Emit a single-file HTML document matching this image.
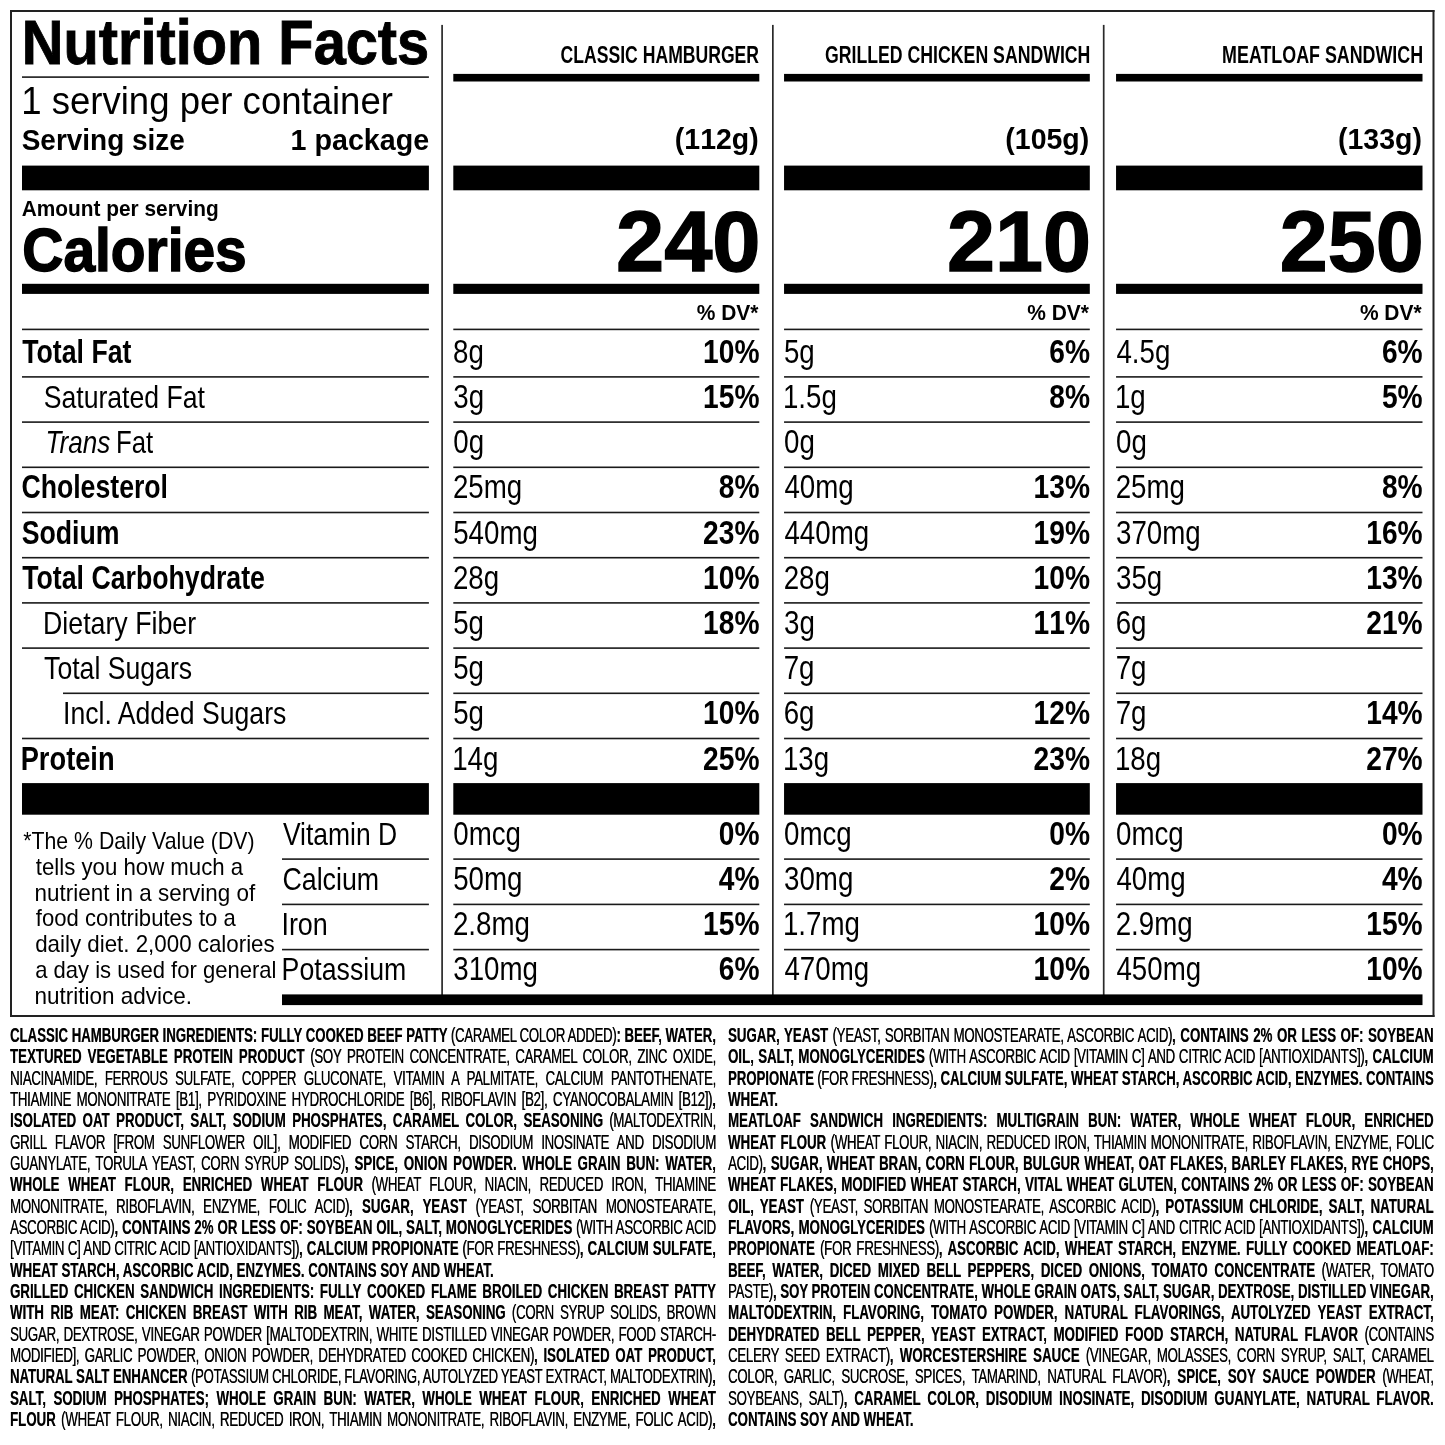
<!DOCTYPE html>
<html lang="en">
<head>
<meta charset="utf-8">
<title>Nutrition Facts</title>
<style>
html,body{margin:0;padding:0;background:#fff}
body{width:1445px;height:1445px;position:relative;overflow:hidden;font-family:"Liberation Sans", sans-serif;color:#000}
.t{position:absolute;white-space:pre;line-height:1;transform-origin:0 0;top:0;left:0}
.b{font-weight:700}
.i{font-style:italic}
.n{font-kerning:none}
.g{position:absolute;white-space:nowrap;line-height:1;transform-origin:0 0;font-size:20.3px;letter-spacing:-0.47px;text-align:justify;text-align-last:justify;color:#000;text-shadow:0.4px 0 0 rgba(0,0,0,.75)}
.g.e{text-align:left;text-align-last:left}
.g b{letter-spacing:0;text-shadow:0.25px 0 0 rgba(0,0,0,.6)}
</style>
</head>
<body>
<!-- rules and bars -->
<svg width="1445" height="1445" viewBox="0 0 1445 1445" style="position:absolute;left:0;top:0">
<rect x="10.00" y="10.00" width="1424.50" height="2.00" fill="#222"/>
<rect x="10.00" y="1015.00" width="1424.50" height="2.00" fill="#222"/>
<rect x="10.00" y="10.00" width="2.00" height="1007.00" fill="#222"/>
<rect x="1432.50" y="10.00" width="2.00" height="1007.00" fill="#222"/>
<rect x="441.25" y="24.90" width="1.70" height="971.00" fill="#2a2a2a"/>
<rect x="772.00" y="24.90" width="1.70" height="971.00" fill="#2a2a2a"/>
<rect x="1102.85" y="24.90" width="1.70" height="971.00" fill="#2a2a2a"/>
<rect x="22.00" y="76.30" width="406.90" height="1.60" fill="#1a1a1a"/>
<rect x="453.30" y="73.90" width="306.00" height="7.60"/>
<rect x="784.05" y="73.90" width="305.75" height="7.60"/>
<rect x="1116.05" y="73.90" width="306.45" height="7.60"/>
<rect x="22.00" y="165.60" width="406.90" height="24.70"/>
<rect x="22.00" y="283.80" width="406.90" height="10.10"/>
<rect x="22.00" y="783.10" width="406.90" height="31.60"/>
<rect x="453.30" y="165.60" width="306.00" height="24.70"/>
<rect x="453.30" y="283.80" width="306.00" height="10.10"/>
<rect x="453.30" y="783.10" width="306.00" height="31.60"/>
<rect x="784.05" y="165.60" width="305.75" height="24.70"/>
<rect x="784.05" y="283.80" width="305.75" height="10.10"/>
<rect x="784.05" y="783.10" width="305.75" height="31.60"/>
<rect x="1116.05" y="165.60" width="306.45" height="24.70"/>
<rect x="1116.05" y="283.80" width="306.45" height="10.10"/>
<rect x="1116.05" y="783.10" width="306.45" height="31.60"/>
<rect x="22.00" y="328.60" width="406.90" height="1.60" fill="#1a1a1a"/>
<rect x="453.30" y="328.60" width="306.00" height="1.60" fill="#1a1a1a"/>
<rect x="784.05" y="328.60" width="305.75" height="1.60" fill="#1a1a1a"/>
<rect x="1116.05" y="328.60" width="306.45" height="1.60" fill="#1a1a1a"/>
<rect x="22.00" y="376.10" width="406.90" height="1.60" fill="#1a1a1a"/>
<rect x="453.30" y="376.10" width="306.00" height="1.60" fill="#1a1a1a"/>
<rect x="784.05" y="376.10" width="305.75" height="1.60" fill="#1a1a1a"/>
<rect x="1116.05" y="376.10" width="306.45" height="1.60" fill="#1a1a1a"/>
<rect x="22.00" y="421.30" width="406.90" height="1.60" fill="#1a1a1a"/>
<rect x="453.30" y="421.30" width="306.00" height="1.60" fill="#1a1a1a"/>
<rect x="784.05" y="421.30" width="305.75" height="1.60" fill="#1a1a1a"/>
<rect x="1116.05" y="421.30" width="306.45" height="1.60" fill="#1a1a1a"/>
<rect x="22.00" y="466.50" width="406.90" height="1.60" fill="#1a1a1a"/>
<rect x="453.30" y="466.50" width="306.00" height="1.60" fill="#1a1a1a"/>
<rect x="784.05" y="466.50" width="305.75" height="1.60" fill="#1a1a1a"/>
<rect x="1116.05" y="466.50" width="306.45" height="1.60" fill="#1a1a1a"/>
<rect x="22.00" y="511.70" width="406.90" height="1.60" fill="#1a1a1a"/>
<rect x="453.30" y="511.70" width="306.00" height="1.60" fill="#1a1a1a"/>
<rect x="784.05" y="511.70" width="305.75" height="1.60" fill="#1a1a1a"/>
<rect x="1116.05" y="511.70" width="306.45" height="1.60" fill="#1a1a1a"/>
<rect x="22.00" y="556.90" width="406.90" height="1.60" fill="#1a1a1a"/>
<rect x="453.30" y="556.90" width="306.00" height="1.60" fill="#1a1a1a"/>
<rect x="784.05" y="556.90" width="305.75" height="1.60" fill="#1a1a1a"/>
<rect x="1116.05" y="556.90" width="306.45" height="1.60" fill="#1a1a1a"/>
<rect x="22.00" y="602.10" width="406.90" height="1.60" fill="#1a1a1a"/>
<rect x="453.30" y="602.10" width="306.00" height="1.60" fill="#1a1a1a"/>
<rect x="784.05" y="602.10" width="305.75" height="1.60" fill="#1a1a1a"/>
<rect x="1116.05" y="602.10" width="306.45" height="1.60" fill="#1a1a1a"/>
<rect x="22.00" y="647.30" width="406.90" height="1.60" fill="#1a1a1a"/>
<rect x="453.30" y="647.30" width="306.00" height="1.60" fill="#1a1a1a"/>
<rect x="784.05" y="647.30" width="305.75" height="1.60" fill="#1a1a1a"/>
<rect x="1116.05" y="647.30" width="306.45" height="1.60" fill="#1a1a1a"/>
<rect x="63.00" y="692.50" width="365.90" height="1.60" fill="#1a1a1a"/>
<rect x="453.30" y="692.50" width="306.00" height="1.60" fill="#1a1a1a"/>
<rect x="784.05" y="692.50" width="305.75" height="1.60" fill="#1a1a1a"/>
<rect x="1116.05" y="692.50" width="306.45" height="1.60" fill="#1a1a1a"/>
<rect x="22.00" y="737.70" width="406.90" height="1.60" fill="#1a1a1a"/>
<rect x="453.30" y="737.70" width="306.00" height="1.60" fill="#1a1a1a"/>
<rect x="784.05" y="737.70" width="305.75" height="1.60" fill="#1a1a1a"/>
<rect x="1116.05" y="737.70" width="306.45" height="1.60" fill="#1a1a1a"/>
<rect x="282.00" y="858.30" width="146.90" height="1.60" fill="#1a1a1a"/>
<rect x="453.30" y="858.30" width="306.00" height="1.60" fill="#1a1a1a"/>
<rect x="784.05" y="858.30" width="305.75" height="1.60" fill="#1a1a1a"/>
<rect x="1116.05" y="858.30" width="306.45" height="1.60" fill="#1a1a1a"/>
<rect x="282.00" y="903.60" width="146.90" height="1.60" fill="#1a1a1a"/>
<rect x="453.30" y="903.60" width="306.00" height="1.60" fill="#1a1a1a"/>
<rect x="784.05" y="903.60" width="305.75" height="1.60" fill="#1a1a1a"/>
<rect x="1116.05" y="903.60" width="306.45" height="1.60" fill="#1a1a1a"/>
<rect x="282.00" y="948.80" width="146.90" height="1.60" fill="#1a1a1a"/>
<rect x="453.30" y="948.80" width="306.00" height="1.60" fill="#1a1a1a"/>
<rect x="784.05" y="948.80" width="305.75" height="1.60" fill="#1a1a1a"/>
<rect x="1116.05" y="948.80" width="306.45" height="1.60" fill="#1a1a1a"/>
<rect x="282.00" y="994.40" width="1140.50" height="10.70"/>
</svg>
<!-- label text -->
<span class="t b" style="font-size:63.4px;-webkit-text-stroke:0.9px #000;transform:translate(21.85px,11.00px) scaleX(0.9107)">Nutrition Facts</span>
<span class="t" style="font-size:38px;transform:translate(21.22px,82.00px) scaleX(0.9616)">1 serving per container</span>
<span class="t b" style="font-size:30px;transform:translate(21.69px,125.00px) scaleX(0.9319)">Serving size</span>
<span class="t b" style="font-size:30px;transform:translate(290.49px,125.00px) scaleX(0.9565)">1 package</span>
<span class="t b" style="font-size:22.4px;transform:translate(21.68px,198.00px) scaleX(0.9315)">Amount per serving</span>
<span class="t b" style="font-size:62.0px;-webkit-text-stroke:1.5px #000;transform:translate(22.36px,219.00px) scaleX(0.9167)">Calories</span>
<span class="t b" style="font-size:23.4px;transform:translate(560.58px,44.00px) scaleX(0.7524)">CLASSIC HAMBURGER</span>
<span class="t b n" style="font-size:30px;transform:translate(674.83px,124.00px) scaleX(0.9488)">(112g)</span>
<span class="t b n" style="font-size:86px;-webkit-text-stroke:1.4px #000;transform:translate(616.00px,198.00px) scaleX(1.0074)">240</span>
<span class="t b" style="font-size:22.6px;transform:translate(696.68px,302.00px) scaleX(0.9278)">% DV*</span>
<span class="t b" style="font-size:23.4px;transform:translate(824.97px,44.00px) scaleX(0.7565)">GRILLED CHICKEN SANDWICH</span>
<span class="t b n" style="font-size:30px;transform:translate(1005.33px,124.00px) scaleX(0.9488)">(105g)</span>
<span class="t b n" style="font-size:86px;-webkit-text-stroke:1.4px #000;transform:translate(947.01px,198.00px) scaleX(1.0038)">210</span>
<span class="t b" style="font-size:22.6px;transform:translate(1027.18px,302.00px) scaleX(0.9278)">% DV*</span>
<span class="t b" style="font-size:23.4px;transform:translate(1222.11px,44.00px) scaleX(0.7633)">MEATLOAF SANDWICH</span>
<span class="t b n" style="font-size:30px;transform:translate(1338.03px,124.00px) scaleX(0.9488)">(133g)</span>
<span class="t b n" style="font-size:86px;-webkit-text-stroke:1.4px #000;transform:translate(1279.81px,198.00px) scaleX(1.0030)">250</span>
<span class="t b" style="font-size:22.6px;transform:translate(1359.88px,302.00px) scaleX(0.9278)">% DV*</span>
<span class="t b" style="font-size:33.3px;transform:translate(22.20px,335.00px) scaleX(0.8016)">Total Fat</span>
<span class="t" style="font-size:32px;transform:translate(43.69px,381.00px) scaleX(0.8319)">Saturated Fat</span>
<span class="t i" style="font-size:32px;transform:translate(45.56px,426.00px) scaleX(0.8156)">Trans</span>
<span class="t" style="font-size:32px;transform:translate(115.99px,426.00px) scaleX(0.8046)">Fat</span>
<span class="t b" style="font-size:33.3px;transform:translate(21.41px,470.00px) scaleX(0.8003)">Cholesterol</span>
<span class="t b" style="font-size:33.3px;transform:translate(21.73px,516.00px) scaleX(0.8013)">Sodium</span>
<span class="t b" style="font-size:33.3px;transform:translate(22.20px,561.00px) scaleX(0.8016)">Total Carbohydrate</span>
<span class="t" style="font-size:32px;transform:translate(43.01px,607.00px) scaleX(0.8356)">Dietary Fiber</span>
<span class="t" style="font-size:32px;transform:translate(44.10px,652.00px) scaleX(0.8318)">Total Sugars</span>
<span class="t" style="font-size:32px;transform:translate(63.05px,697.00px) scaleX(0.8311)">Incl. Added Sugars</span>
<span class="t b" style="font-size:33.3px;transform:translate(20.68px,742.00px) scaleX(0.8188)">Protein</span>
<span class="t" style="font-size:32px;transform:translate(282.88px,818.00px) scaleX(0.8274)">Vitamin D</span>
<span class="t" style="font-size:32px;transform:translate(282.44px,863.00px) scaleX(0.8369)">Calcium</span>
<span class="t" style="font-size:32px;transform:translate(281.41px,908.00px) scaleX(0.8422)">Iron</span>
<span class="t" style="font-size:32px;transform:translate(281.61px,953.00px) scaleX(0.8344)">Potassium</span>
<span class="t n" style="font-size:33.3px;transform:translate(453.10px,335.00px) scaleX(0.8320)">8g</span>
<span class="t b n" style="font-size:33.3px;transform:translate(703.06px,335.00px) scaleX(0.8460)">10%</span>
<span class="t n" style="font-size:33.3px;transform:translate(783.94px,335.00px) scaleX(0.8320)">5g</span>
<span class="t b n" style="font-size:33.3px;transform:translate(1049.23px,335.00px) scaleX(0.8460)">6%</span>
<span class="t n" style="font-size:33.3px;transform:translate(1116.41px,335.00px) scaleX(0.8320)">4.5g</span>
<span class="t b n" style="font-size:33.3px;transform:translate(1381.93px,335.00px) scaleX(0.8460)">6%</span>
<span class="t n" style="font-size:33.3px;transform:translate(453.24px,380.00px) scaleX(0.8320)">3g</span>
<span class="t b n" style="font-size:33.3px;transform:translate(703.06px,380.00px) scaleX(0.8460)">15%</span>
<span class="t n" style="font-size:33.3px;transform:translate(782.94px,380.00px) scaleX(0.8320)">1.5g</span>
<span class="t b n" style="font-size:33.3px;transform:translate(1049.23px,380.00px) scaleX(0.8460)">8%</span>
<span class="t n" style="font-size:33.3px;transform:translate(1114.94px,380.00px) scaleX(0.8320)">1g</span>
<span class="t b n" style="font-size:33.3px;transform:translate(1381.93px,380.00px) scaleX(0.8460)">5%</span>
<span class="t n" style="font-size:33.3px;transform:translate(453.22px,425.00px) scaleX(0.8320)">0g</span>
<span class="t n" style="font-size:33.3px;transform:translate(783.97px,425.00px) scaleX(0.8320)">0g</span>
<span class="t n" style="font-size:33.3px;transform:translate(1115.97px,425.00px) scaleX(0.8320)">0g</span>
<span class="t n" style="font-size:33.3px;transform:translate(452.91px,470.00px) scaleX(0.8320)">25mg</span>
<span class="t b n" style="font-size:33.3px;transform:translate(718.73px,470.00px) scaleX(0.8460)">8%</span>
<span class="t n" style="font-size:33.3px;transform:translate(784.41px,470.00px) scaleX(0.8320)">40mg</span>
<span class="t b n" style="font-size:33.3px;transform:translate(1033.56px,470.00px) scaleX(0.8460)">13%</span>
<span class="t n" style="font-size:33.3px;transform:translate(1115.66px,470.00px) scaleX(0.8320)">25mg</span>
<span class="t b n" style="font-size:33.3px;transform:translate(1381.93px,470.00px) scaleX(0.8460)">8%</span>
<span class="t n" style="font-size:33.3px;transform:translate(453.19px,516.00px) scaleX(0.8320)">540mg</span>
<span class="t b n" style="font-size:33.3px;transform:translate(703.06px,516.00px) scaleX(0.8460)">23%</span>
<span class="t n" style="font-size:33.3px;transform:translate(784.41px,516.00px) scaleX(0.8320)">440mg</span>
<span class="t b n" style="font-size:33.3px;transform:translate(1033.56px,516.00px) scaleX(0.8460)">19%</span>
<span class="t n" style="font-size:33.3px;transform:translate(1115.99px,516.00px) scaleX(0.8320)">370mg</span>
<span class="t b n" style="font-size:33.3px;transform:translate(1366.26px,516.00px) scaleX(0.8460)">16%</span>
<span class="t n" style="font-size:33.3px;transform:translate(452.91px,561.00px) scaleX(0.8320)">28g</span>
<span class="t b n" style="font-size:33.3px;transform:translate(703.06px,561.00px) scaleX(0.8460)">10%</span>
<span class="t n" style="font-size:33.3px;transform:translate(783.66px,561.00px) scaleX(0.8320)">28g</span>
<span class="t b n" style="font-size:33.3px;transform:translate(1033.56px,561.00px) scaleX(0.8460)">10%</span>
<span class="t n" style="font-size:33.3px;transform:translate(1115.99px,561.00px) scaleX(0.8320)">35g</span>
<span class="t b n" style="font-size:33.3px;transform:translate(1366.26px,561.00px) scaleX(0.8460)">13%</span>
<span class="t n" style="font-size:33.3px;transform:translate(453.19px,606.00px) scaleX(0.8320)">5g</span>
<span class="t b n" style="font-size:33.3px;transform:translate(703.06px,606.00px) scaleX(0.8460)">18%</span>
<span class="t n" style="font-size:33.3px;transform:translate(783.99px,606.00px) scaleX(0.8320)">3g</span>
<span class="t b n" style="font-size:33.3px;transform:translate(1033.56px,606.00px) scaleX(0.8460)">11%</span>
<span class="t n" style="font-size:33.3px;transform:translate(1115.64px,606.00px) scaleX(0.8320)">6g</span>
<span class="t b n" style="font-size:33.3px;transform:translate(1366.26px,606.00px) scaleX(0.8460)">21%</span>
<span class="t n" style="font-size:33.3px;transform:translate(453.19px,651.00px) scaleX(0.8320)">5g</span>
<span class="t n" style="font-size:33.3px;transform:translate(783.63px,651.00px) scaleX(0.8320)">7g</span>
<span class="t n" style="font-size:33.3px;transform:translate(1115.63px,651.00px) scaleX(0.8320)">7g</span>
<span class="t n" style="font-size:33.3px;transform:translate(453.19px,696.00px) scaleX(0.8320)">5g</span>
<span class="t b n" style="font-size:33.3px;transform:translate(703.06px,696.00px) scaleX(0.8460)">10%</span>
<span class="t n" style="font-size:33.3px;transform:translate(783.64px,696.00px) scaleX(0.8320)">6g</span>
<span class="t b n" style="font-size:33.3px;transform:translate(1033.56px,696.00px) scaleX(0.8460)">12%</span>
<span class="t n" style="font-size:33.3px;transform:translate(1115.63px,696.00px) scaleX(0.8320)">7g</span>
<span class="t b n" style="font-size:33.3px;transform:translate(1366.26px,696.00px) scaleX(0.8460)">14%</span>
<span class="t n" style="font-size:33.3px;transform:translate(452.19px,742.00px) scaleX(0.8320)">14g</span>
<span class="t b n" style="font-size:33.3px;transform:translate(703.06px,742.00px) scaleX(0.8460)">25%</span>
<span class="t n" style="font-size:33.3px;transform:translate(782.94px,742.00px) scaleX(0.8320)">13g</span>
<span class="t b n" style="font-size:33.3px;transform:translate(1033.56px,742.00px) scaleX(0.8460)">23%</span>
<span class="t n" style="font-size:33.3px;transform:translate(1114.94px,742.00px) scaleX(0.8320)">18g</span>
<span class="t b n" style="font-size:33.3px;transform:translate(1366.26px,742.00px) scaleX(0.8460)">27%</span>
<span class="t n" style="font-size:33.3px;transform:translate(453.22px,817.00px) scaleX(0.8320)">0mcg</span>
<span class="t b n" style="font-size:33.3px;transform:translate(718.73px,817.00px) scaleX(0.8460)">0%</span>
<span class="t n" style="font-size:33.3px;transform:translate(783.97px,817.00px) scaleX(0.8320)">0mcg</span>
<span class="t b n" style="font-size:33.3px;transform:translate(1049.23px,817.00px) scaleX(0.8460)">0%</span>
<span class="t n" style="font-size:33.3px;transform:translate(1115.97px,817.00px) scaleX(0.8320)">0mcg</span>
<span class="t b n" style="font-size:33.3px;transform:translate(1381.93px,817.00px) scaleX(0.8460)">0%</span>
<span class="t n" style="font-size:33.3px;transform:translate(453.19px,862.00px) scaleX(0.8320)">50mg</span>
<span class="t b n" style="font-size:33.3px;transform:translate(718.73px,862.00px) scaleX(0.8460)">4%</span>
<span class="t n" style="font-size:33.3px;transform:translate(783.99px,862.00px) scaleX(0.8320)">30mg</span>
<span class="t b n" style="font-size:33.3px;transform:translate(1049.23px,862.00px) scaleX(0.8460)">2%</span>
<span class="t n" style="font-size:33.3px;transform:translate(1116.41px,862.00px) scaleX(0.8320)">40mg</span>
<span class="t b n" style="font-size:33.3px;transform:translate(1381.93px,862.00px) scaleX(0.8460)">4%</span>
<span class="t n" style="font-size:33.3px;transform:translate(452.91px,907.00px) scaleX(0.8320)">2.8mg</span>
<span class="t b n" style="font-size:33.3px;transform:translate(703.06px,907.00px) scaleX(0.8460)">15%</span>
<span class="t n" style="font-size:33.3px;transform:translate(782.94px,907.00px) scaleX(0.8320)">1.7mg</span>
<span class="t b n" style="font-size:33.3px;transform:translate(1033.56px,907.00px) scaleX(0.8460)">10%</span>
<span class="t n" style="font-size:33.3px;transform:translate(1115.66px,907.00px) scaleX(0.8320)">2.9mg</span>
<span class="t b n" style="font-size:33.3px;transform:translate(1366.26px,907.00px) scaleX(0.8460)">15%</span>
<span class="t n" style="font-size:33.3px;transform:translate(453.24px,952.00px) scaleX(0.8320)">310mg</span>
<span class="t b n" style="font-size:33.3px;transform:translate(718.73px,952.00px) scaleX(0.8460)">6%</span>
<span class="t n" style="font-size:33.3px;transform:translate(784.41px,952.00px) scaleX(0.8320)">470mg</span>
<span class="t b n" style="font-size:33.3px;transform:translate(1033.56px,952.00px) scaleX(0.8460)">10%</span>
<span class="t n" style="font-size:33.3px;transform:translate(1116.41px,952.00px) scaleX(0.8320)">450mg</span>
<span class="t b n" style="font-size:33.3px;transform:translate(1366.26px,952.00px) scaleX(0.8460)">10%</span>
<span class="t" style="font-size:24.0px;transform:translate(23.26px,829.00px) scaleX(0.8861)">*The % Daily Value (DV)</span>
<span class="t" style="font-size:24.0px;transform:translate(35.76px,855.00px) scaleX(0.9256)">tells you how much a</span>
<span class="t" style="font-size:24.0px;transform:translate(34.61px,881.00px) scaleX(0.9340)">nutrient in a serving of</span>
<span class="t" style="font-size:24.0px;transform:translate(35.79px,906.00px) scaleX(0.9197)">food contributes to a</span>
<span class="t" style="font-size:24.0px;transform:translate(35.16px,932.00px) scaleX(0.9303)">daily diet. 2,000 calories</span>
<span class="t" style="font-size:24.0px;transform:translate(35.16px,958.00px) scaleX(0.9177)">a day is used for general</span>
<span class="t" style="font-size:24.0px;transform:translate(34.61px,984.00px) scaleX(0.9367)">nutrition advice.</span>
<!-- ingredients -->
<div class="g" style="left:10.30px;top:1025.00px;width:1084.20px;transform:scaleX(0.6511)"><b>CLASSIC HAMBURGER INGREDIENTS: FULLY COOKED BEEF PATTY</b> (CARAMEL COLOR ADDED)<b>: BEEF, WATER,</b></div>
<div class="g" style="left:10.30px;top:1046.00px;width:1077.71px;transform:scaleX(0.6550)"><b>TEXTURED VEGETABLE PROTEIN PRODUCT</b> (SOY PROTEIN CONCENTRATE, CARAMEL COLOR, ZINC OXIDE,</div>
<div class="g" style="left:10.30px;top:1068.00px;width:1077.71px;transform:scaleX(0.6550)">NIACINAMIDE, FERROUS SULFATE, COPPER GLUCONATE, VITAMIN A PALMITATE, CALCIUM PANTOTHENATE,</div>
<div class="g" style="left:10.30px;top:1089.00px;width:1077.71px;transform:scaleX(0.6550)">THIAMINE MONONITRATE [B1], PYRIDOXINE HYDROCHLORIDE [B6], RIBOFLAVIN [B2], CYANOCOBALAMIN [B12])<b>,</b></div>
<div class="g" style="left:10.30px;top:1110.00px;width:1077.71px;transform:scaleX(0.6550)"><b>ISOLATED OAT PRODUCT, SALT, SODIUM PHOSPHATES, CARAMEL COLOR, SEASONING</b> (MALTODEXTRIN,</div>
<div class="g" style="left:10.30px;top:1132.00px;width:1077.71px;transform:scaleX(0.6550)">GRILL FLAVOR [FROM SUNFLOWER OIL], MODIFIED CORN STARCH, DISODIUM INOSINATE AND DISODIUM</div>
<div class="g" style="left:10.30px;top:1153.00px;width:1077.71px;transform:scaleX(0.6550)">GUANYLATE, TORULA YEAST, CORN SYRUP SOLIDS)<b>, SPICE, ONION POWDER. WHOLE GRAIN BUN: WATER,</b></div>
<div class="g" style="left:10.30px;top:1174.00px;width:1077.71px;transform:scaleX(0.6550)"><b>WHOLE WHEAT FLOUR, ENRICHED WHEAT FLOUR</b> (WHEAT FLOUR, NIACIN, REDUCED IRON, THIAMINE</div>
<div class="g" style="left:10.30px;top:1196.00px;width:1077.71px;transform:scaleX(0.6550)">MONONITRATE, RIBOFLAVIN, ENZYME, FOLIC ACID)<b>, SUGAR, YEAST</b> (YEAST, SORBITAN MONOSTEARATE,</div>
<div class="g" style="left:10.30px;top:1217.00px;width:1077.71px;transform:scaleX(0.6550)">ASCORBIC ACID)<b>, CONTAINS 2% OR LESS OF: SOYBEAN OIL, SALT, MONOGLYCERIDES</b> (WITH ASCORBIC ACID</div>
<div class="g" style="left:10.30px;top:1238.00px;width:1077.71px;transform:scaleX(0.6550)">[VITAMIN C] AND CITRIC ACID [ANTIOXIDANTS])<b>, CALCIUM PROPIONATE</b> (FOR FRESHNESS)<b>, CALCIUM SULFATE,</b></div>
<div class="g e" style="left:10.30px;top:1260.00px;width:1077.71px;transform:scaleX(0.6550)"><b>WHEAT STARCH, ASCORBIC ACID, ENZYMES. CONTAINS SOY AND WHEAT.</b></div>
<div class="g" style="left:10.30px;top:1281.00px;width:1077.71px;transform:scaleX(0.6550)"><b>GRILLED CHICKEN SANDWICH INGREDIENTS: FULLY COOKED FLAME BROILED CHICKEN BREAST PATTY</b></div>
<div class="g" style="left:10.30px;top:1302.00px;width:1077.71px;transform:scaleX(0.6550)"><b>WITH RIB MEAT: CHICKEN BREAST WITH RIB MEAT, WATER, SEASONING</b> (CORN SYRUP SOLIDS, BROWN</div>
<div class="g" style="left:10.30px;top:1324.00px;width:1077.71px;transform:scaleX(0.6550)">SUGAR, DEXTROSE, VINEGAR POWDER [MALTODEXTRIN, WHITE DISTILLED VINEGAR POWDER, FOOD STARCH-</div>
<div class="g" style="left:10.30px;top:1345.00px;width:1077.71px;transform:scaleX(0.6550)">MODIFIED], GARLIC POWDER, ONION POWDER, DEHYDRATED COOKED CHICKEN)<b>, ISOLATED OAT PRODUCT,</b></div>
<div class="g" style="left:10.30px;top:1366.00px;width:1088.27px;transform:scaleX(0.6486)"><b>NATURAL SALT ENHANCER</b> (POTASSIUM CHLORIDE, FLAVORING, AUTOLYZED YEAST EXTRACT, MALTODEXTRIN)<b>,</b></div>
<div class="g" style="left:10.30px;top:1388.00px;width:1077.71px;transform:scaleX(0.6550)"><b>SALT, SODIUM PHOSPHATES; WHOLE GRAIN BUN: WATER, WHOLE WHEAT FLOUR, ENRICHED WHEAT</b></div>
<div class="g" style="left:10.30px;top:1409.00px;width:1077.71px;transform:scaleX(0.6550)"><b>FLOUR</b> (WHEAT FLOUR, NIACIN, REDUCED IRON, THIAMIN MONONITRATE, RIBOFLAVIN, ENZYME, FOLIC ACID)<b>,</b></div>
<div class="g" style="left:728.30px;top:1025.00px;width:1077.40px;transform:scaleX(0.6550)"><b>SUGAR, YEAST</b> (YEAST, SORBITAN MONOSTEARATE, ASCORBIC ACID)<b>, CONTAINS 2% OR LESS OF: SOYBEAN</b></div>
<div class="g" style="left:728.30px;top:1046.00px;width:1077.40px;transform:scaleX(0.6550)"><b>OIL, SALT, MONOGLYCERIDES</b> (WITH ASCORBIC ACID [VITAMIN C] AND CITRIC ACID [ANTIOXIDANTS])<b>, CALCIUM</b></div>
<div class="g" style="left:728.30px;top:1068.00px;width:1088.81px;transform:scaleX(0.6481)"><b>PROPIONATE</b> (FOR FRESHNESS)<b>, CALCIUM SULFATE, WHEAT STARCH, ASCORBIC ACID, ENZYMES. CONTAINS</b></div>
<div class="g e" style="left:728.30px;top:1089.00px;width:1077.40px;transform:scaleX(0.6550)"><b>WHEAT.</b></div>
<div class="g" style="left:728.30px;top:1110.00px;width:1077.40px;transform:scaleX(0.6550)"><b>MEATLOAF SANDWICH INGREDIENTS: MULTIGRAIN BUN: WATER, WHOLE WHEAT FLOUR, ENRICHED</b></div>
<div class="g" style="left:728.30px;top:1132.00px;width:1077.40px;transform:scaleX(0.6550)"><b>WHEAT FLOUR</b> (WHEAT FLOUR, NIACIN, REDUCED IRON, THIAMIN MONONITRATE, RIBOFLAVIN, ENZYME, FOLIC</div>
<div class="g" style="left:728.30px;top:1153.00px;width:1077.40px;transform:scaleX(0.6550)">ACID)<b>, SUGAR, WHEAT BRAN, CORN FLOUR, BULGUR WHEAT, OAT FLAKES, BARLEY FLAKES, RYE CHOPS,</b></div>
<div class="g" style="left:728.30px;top:1174.00px;width:1077.40px;transform:scaleX(0.6550)"><b>WHEAT FLAKES, MODIFIED WHEAT STARCH, VITAL WHEAT GLUTEN, CONTAINS 2% OR LESS OF: SOYBEAN</b></div>
<div class="g" style="left:728.30px;top:1196.00px;width:1077.40px;transform:scaleX(0.6550)"><b>OIL, YEAST</b> (YEAST, SORBITAN MONOSTEARATE, ASCORBIC ACID)<b>, POTASSIUM CHLORIDE, SALT, NATURAL</b></div>
<div class="g" style="left:728.30px;top:1217.00px;width:1077.40px;transform:scaleX(0.6550)"><b>FLAVORS, MONOGLYCERIDES</b> (WITH ASCORBIC ACID [VITAMIN C] AND CITRIC ACID [ANTIOXIDANTS])<b>, CALCIUM</b></div>
<div class="g" style="left:728.30px;top:1238.00px;width:1077.40px;transform:scaleX(0.6550)"><b>PROPIONATE</b> (FOR FRESHNESS)<b>, ASCORBIC ACID, WHEAT STARCH, ENZYME. FULLY COOKED MEATLOAF:</b></div>
<div class="g" style="left:728.30px;top:1260.00px;width:1077.40px;transform:scaleX(0.6550)"><b>BEEF, WATER, DICED MIXED BELL PEPPERS, DICED ONIONS, TOMATO CONCENTRATE</b> (WATER, TOMATO</div>
<div class="g" style="left:728.30px;top:1281.00px;width:1083.81px;transform:scaleX(0.6511)">PASTE)<b>, SOY PROTEIN CONCENTRATE, WHOLE GRAIN OATS, SALT, SUGAR, DEXTROSE, DISTILLED VINEGAR,</b></div>
<div class="g" style="left:728.30px;top:1302.00px;width:1077.40px;transform:scaleX(0.6550)"><b>MALTODEXTRIN, FLAVORING, TOMATO POWDER, NATURAL FLAVORINGS, AUTOLYZED YEAST EXTRACT,</b></div>
<div class="g" style="left:728.30px;top:1324.00px;width:1077.40px;transform:scaleX(0.6550)"><b>DEHYDRATED BELL PEPPER, YEAST EXTRACT, MODIFIED FOOD STARCH, NATURAL FLAVOR</b> (CONTAINS</div>
<div class="g" style="left:728.30px;top:1345.00px;width:1077.40px;transform:scaleX(0.6550)">CELERY SEED EXTRACT)<b>, WORCESTERSHIRE SAUCE</b> (VINEGAR, MOLASSES, CORN SYRUP, SALT, CARAMEL</div>
<div class="g" style="left:728.30px;top:1366.00px;width:1077.40px;transform:scaleX(0.6550)">COLOR, GARLIC, SUCROSE, SPICES, TAMARIND, NATURAL FLAVOR)<b>, SPICE, SOY SAUCE POWDER</b> (WHEAT,</div>
<div class="g" style="left:728.30px;top:1388.00px;width:1077.40px;transform:scaleX(0.6550)">SOYBEANS, SALT)<b>, CARAMEL COLOR, DISODIUM INOSINATE, DISODIUM GUANYLATE, NATURAL FLAVOR.</b></div>
<div class="g e" style="left:728.30px;top:1409.00px;width:1077.40px;transform:scaleX(0.6550)"><b>CONTAINS SOY AND WHEAT.</b></div>
</body>
</html>
